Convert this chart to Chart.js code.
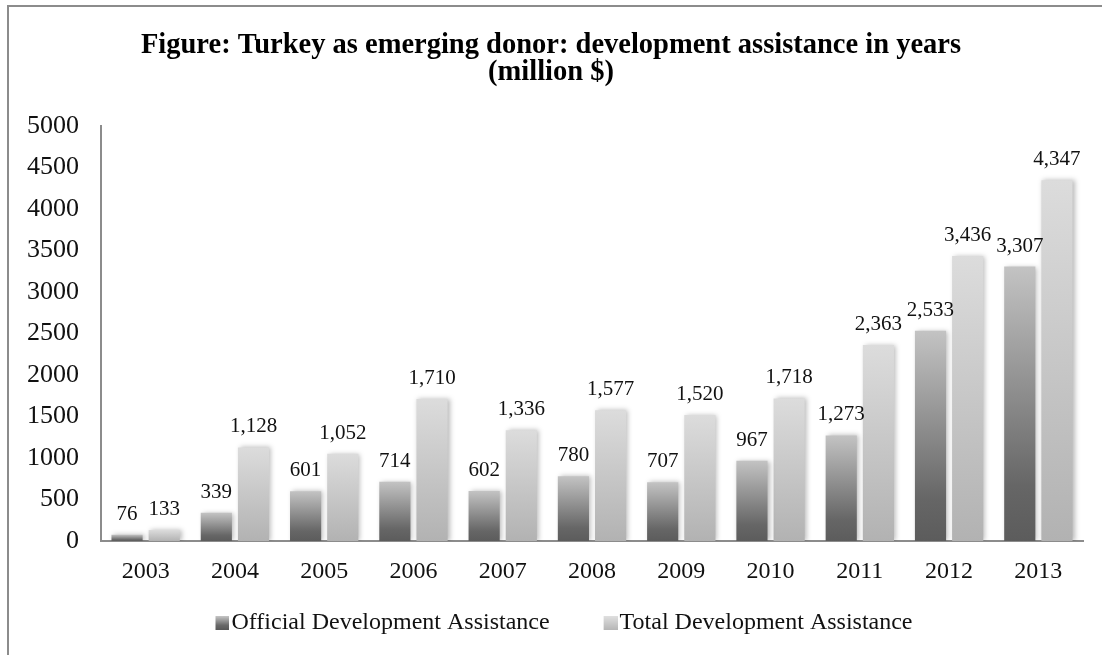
<!DOCTYPE html>
<html>
<head>
<meta charset="utf-8">
<script src="https://cdn.jsdelivr.net/npm/chart.js@4"></script>
<style>
  html, body { margin: 0; padding: 0; background: #fff; overflow: hidden; }
  #frame { position: absolute; left: 7px; top: 5px; width: 1200px; height: 800px; border-left: 2px solid #8c8c8c; border-top: 2px solid #8c8c8c; box-sizing: border-box; }
  #wrap { position: absolute; left: 0; top: 0; width: 1102px; height: 655px; }
</style>
</head>
<body>
<div id="frame"></div>
<div id="wrap"><canvas id="c" width="1102" height="655"></canvas></div>
<script>
const categories = ["2003","2004","2005","2006","2007","2008","2009","2010","2011","2012","2013"];
const officialAssistance = [76, 339, 601, 714, 602, 780, 707, 967, 1273, 2533, 3307];
const totalAssistance = [133, 1128, 1052, 1710, 1336, 1577, 1520, 1718, 2363, 3436, 4347];
const seriesNames = ["Official Development Assistance", "Total Development Assistance"];
const titleLines = ["Figure: Turkey as emerging donor: development assistance in years", "(million $)"];

const SERIF = "'Liberation Serif', 'Times New Roman', serif";
const odaStops = [[0, '#5c5c5c'], [0.2, '#666666'], [1, '#c3c3c3']];
const totalStops = [[0, '#b2b2b2'], [1, '#dcdcdc']];
const legendStops = [
  [[0, '#575757'], [0.35, '#6a6a6a'], [1, '#c6c6c6']],
  [[0, '#b6b6b6'], [1, '#e0e0e0']]
];
const LEGEND_PAD = 28;
const LEGEND_FONT = 24;
const BOX = 14;
const SW = 30;   // legend symbol slot width
const EXT = 10;  // symbol overhang towards the text

function legendSymbol(stops) {
  const cv = document.createElement('canvas');
  cv.width = SW + 2 * EXT;
  cv.height = BOX;
  const c = cv.getContext('2d');
  const g = c.createLinearGradient(0, BOX, 0, 0);
  stops.forEach(s => g.addColorStop(s[0], s[1]));
  c.fillStyle = g;
  c.fillRect(cv.width - BOX, 0, BOX, BOX);
  return cv;
}
const legendSymbols = legendStops.map(legendSymbol);

function barGradient(stops, fallback) {
  return function(ctx) {
    const chart = ctx.chart;
    if (!chart.chartArea || ctx.type !== 'data') return fallback;
    const y = chart.scales.y;
    const top = y.getPixelForValue(ctx.raw);
    const bottom = y.getPixelForValue(0);
    if (!isFinite(top) || !isFinite(bottom) || bottom - top < 1) return fallback;
    const g = chart.ctx.createLinearGradient(0, bottom, 0, top);
    stops.forEach(s => g.addColorStop(s[0], s[1]));
    return g;
  };
}

const shadowPlugin = {
  id: 'barShadow',
  beforeDatasetDraw(chart) {
    const c = chart.ctx;
    c.save();
    c.shadowColor = 'rgba(0,0,0,0.28)';
    c.shadowBlur = 5;
    c.shadowOffsetX = 2;
    c.shadowOffsetY = 0;
  },
  afterDatasetDraw(chart) {
    chart.ctx.restore();
  }
};

const valueLabels = {
  id: 'valueLabels',
  afterDatasetsDraw(chart) {
    const c = chart.ctx;
    c.save();
    c.font = "21px " + SERIF;
    c.fillStyle = '#111';
    c.textAlign = 'center';
    c.textBaseline = 'alphabetic';
    chart.data.datasets.forEach((ds, i) => {
      const meta = chart.getDatasetMeta(i);
      meta.data.forEach((el, j) => {
        const v = ds.data[j];
        c.fillText(v.toLocaleString('en-US'), el.x, el.y - 15);
      });
    });
    c.restore();
  }
};

new Chart(document.getElementById('c'), {
  type: 'bar',
  data: {
    labels: categories,
    datasets: [
      {
        label: seriesNames[0],
        data: officialAssistance,
        backgroundColor: barGradient(odaStops, '#8e8e8e'),
        borderWidth: 0,
        categoryPercentage: 0.833,
        barPercentage: 0.838
      },
      {
        label: seriesNames[1],
        data: totalAssistance,
        backgroundColor: barGradient(totalStops, '#c8c8c8'),
        borderWidth: 0,
        categoryPercentage: 0.833,
        barPercentage: 0.838
      }
    ]
  },
  options: {
    responsive: false,
    animation: false,
    devicePixelRatio: 1,
    layout: { padding: { left: 0, right: 0, top: 0, bottom: 10 } },
    plugins: {
      title: {
        display: true,
        text: titleLines,
        color: '#000',
        font: { family: SERIF, size: 28.5, weight: 'bold', lineHeight: 0.95 },
        padding: { top: 32, bottom: 40 }
      },
      legend: {
        position: 'bottom',
        labels: {
          color: '#111',
          font: { family: SERIF, size: LEGEND_FONT },
          usePointStyle: true,
          pointStyleWidth: SW,
          boxWidth: SW,
          boxHeight: BOX,
          padding: LEGEND_PAD,
          generateLabels(chart) {
            const items = Chart.defaults.plugins.legend.labels.generateLabels(chart);
            items.forEach((it, i) => {
              it.pointStyle = legendSymbols[i];
              it.lineWidth = 0;
              it.strokeStyle = 'rgba(0,0,0,0)';
            });
            return items;
          }
        }
      },
      tooltip: { enabled: false }
    },
    scales: {
      x: {
        grid: { display: false, drawTicks: false },
        border: { display: true, color: '#8c8c8c', width: 2 },
        ticks: { color: '#111', font: { family: SERIF, size: 24 }, padding: 16, maxRotation: 0 },
        afterFit(s) { s.height = 42; }
      },
      y: {
        min: 0,
        max: 5000,
        grid: { display: false, drawTicks: false },
        border: { display: true, color: '#8c8c8c', width: 2 },
        ticks: {
          stepSize: 500, color: '#111', font: { family: SERIF, size: 26 }, padding: 22,
          callback: (v) => String(v)
        },
        afterFit(s) { s.width = 101; }
      },
      rightGap: {
        position: 'right',
        display: true,
        grid: { display: false, drawTicks: false },
        border: { display: false },
        ticks: { display: false },
        afterFit(s) { s.width = 19; }
      }
    }
  },
  plugins: [shadowPlugin, valueLabels]
});
</script>
</body>
</html>
